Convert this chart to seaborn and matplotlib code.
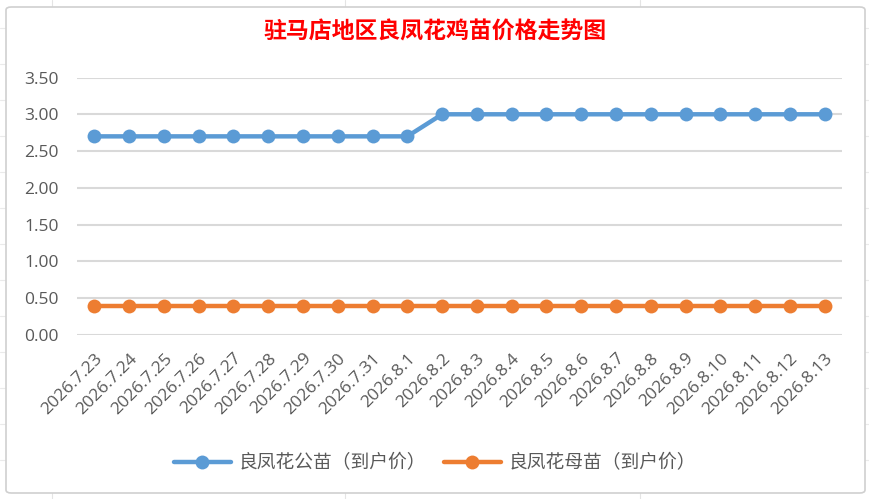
#!/usr/bin/env python3
"""
Price trend of Liangfeng chicks in Zhumadian (line chart)
"""

import matplotlib.pyplot as plt
from matplotlib.patches import FancyBboxPatch
import seaborn as sns
import pandas as pd

dates = ['2026.7.23', '2026.7.24', '2026.7.25', '2026.7.26', '2026.7.27',
         '2026.7.28', '2026.7.29', '2026.7.30', '2026.7.31', '2026.8.1',
         '2026.8.2', '2026.8.3', '2026.8.4', '2026.8.5', '2026.8.6',
         '2026.8.7', '2026.8.8', '2026.8.9', '2026.8.10', '2026.8.11',
         '2026.8.12', '2026.8.13']
male_price = [2.70, 2.70, 2.70, 2.70, 2.70, 2.70, 2.70, 2.70, 2.70, 2.70,
              3.00, 3.00, 3.00, 3.00, 3.00, 3.00, 3.00, 3.00, 3.00, 3.00,
              3.00, 3.00]
female_price = [0.40] * 22
series_names = ['良凤花公苗（到户价）', '良凤花母苗（到户价）']
y_ticks = [0.0, 0.5, 1.0, 1.5, 2.0, 2.5, 3.0, 3.5]

df = pd.concat([
    pd.DataFrame({'date': dates, 'price': male_price, 'series': series_names[0]}),
    pd.DataFrame({'date': dates, 'price': female_price, 'series': series_names[1]}),
])

sns.set_style('white')
plt.rcParams['font.family'] = ['Open Sans', 'Noto Sans CJK SC', 'DejaVu Sans']

fig = plt.figure(figsize=(8.7, 4.99), dpi=100)
fig.patch.set_facecolor('white')

# spreadsheet grid faintly behind the chart
for x in [52, 345, 640]:
    fig.add_artist(plt.Line2D([x / 870, x / 870], [0, 1], color='#E4E4E4', lw=0.8, zorder=-3))
for y in [28, 64, 100, 136, 172, 208, 244, 280, 316, 352, 388, 424, 460]:
    fig.add_artist(plt.Line2D([0, 1], [1 - y / 499, 1 - y / 499], color='#EAEAEA', lw=0.8, zorder=-3))
fig.add_artist(FancyBboxPatch((6 / 870, 6 / 499), 859 / 870, 486 / 499,
                              boxstyle='round,pad=0,rounding_size=0.006',
                              transform=fig.transFigure, facecolor='white',
                              edgecolor='#D0D0D0', lw=1.2, zorder=-2))

ax = fig.add_axes([77 / 870, 1 - 335 / 499, 765 / 870, (335 - 77.5) / 499])
ax.set_facecolor('none')

sns.lineplot(data=df, x='date', y='price', hue='series', style='series',
             palette=['#5B9BD5', '#ED7D31'], markers=['o', 'o'], dashes=False,
             sort=False, linewidth=3.2, markersize=10, markeredgewidth=0, ax=ax)

ax.set_xlim(-0.5, len(dates) - 0.5)
ax.set_ylim(0, 3.5)
ax.set_yticks(y_ticks)
ax.set_yticklabels([f'{v:.2f}' for v in y_ticks])
ax.yaxis.grid(True, color='#D9D9D9', lw=1.5)
ax.set_axisbelow(True)
for s in ax.spines.values():
    s.set_visible(False)
ax.tick_params(axis='both', length=0, colors='#595959', labelsize=12.5)
ax.tick_params(axis='y', pad=13)
plt.setp(ax.get_xticklabels(), rotation=45, ha='right', rotation_mode='anchor')
ax.tick_params(axis='x', pad=11)
ax.set_xlabel('')
ax.set_ylabel('')

fig.text(0.5, 1 - 32 / 499, '驻马店地区良凤花鸡苗价格走势图', ha='center', va='center',
         color='#FF0000', fontsize=16.5, fontweight='bold', family=['Noto Sans CJK SC'])

sns.move_legend(ax, 'center', bbox_to_anchor=(0.5, 1 - 463 / 499),
                bbox_transform=fig.transFigure, ncol=2, frameon=False, title=None,
                fontsize=13.5, handlelength=3.0, columnspacing=1.0, handletextpad=0.4)
for t in ax.get_legend().get_texts():
    t.set_color('#595959')
    t.set_family(['Noto Sans CJK SC'])

fig.savefig('out.png', dpi=100, facecolor='white')
plt.close(fig)
